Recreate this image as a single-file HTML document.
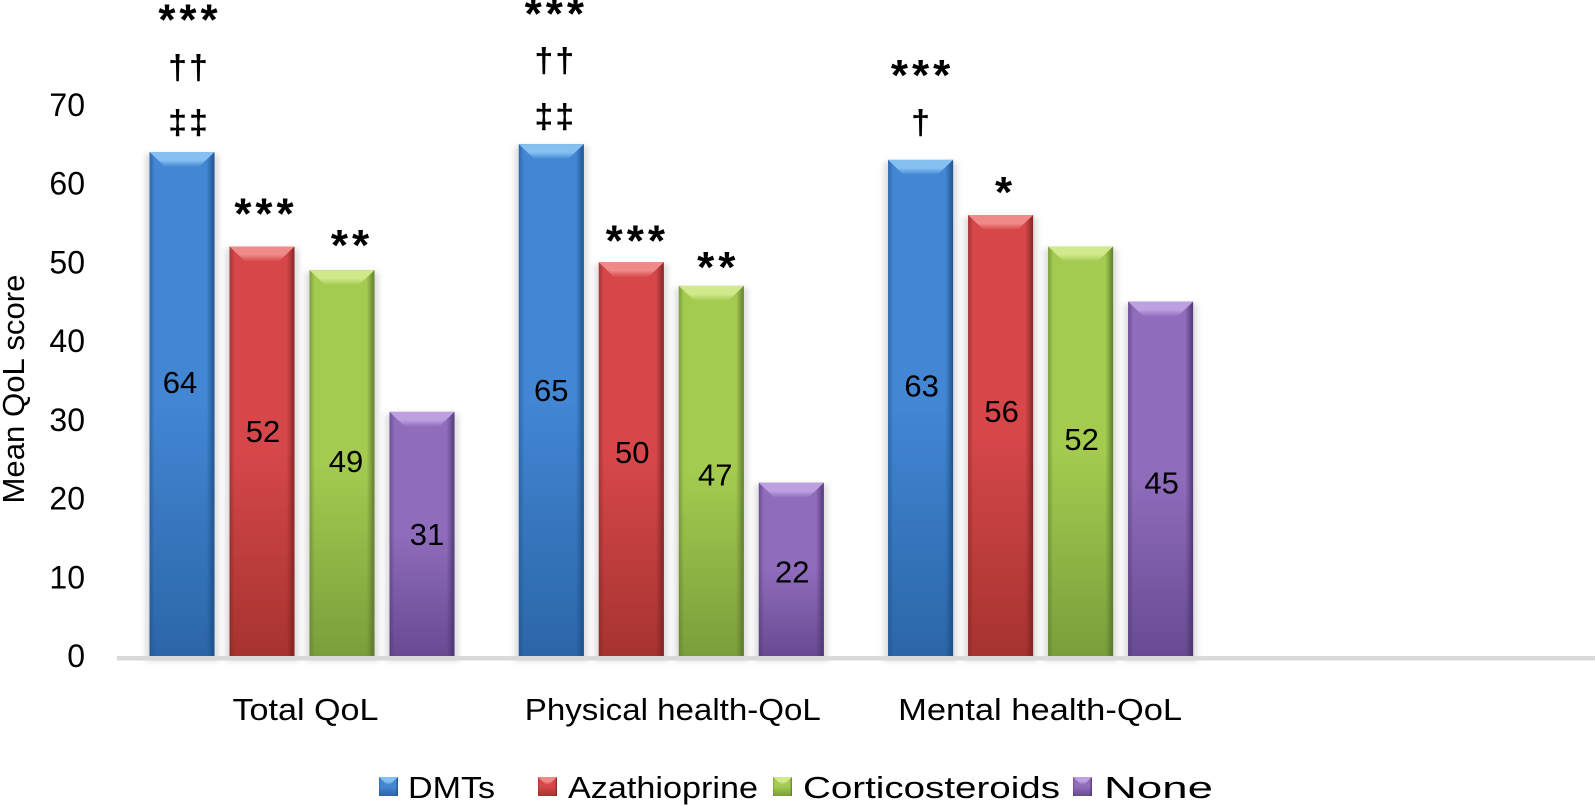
<!DOCTYPE html>
<html>
<head>
<meta charset="utf-8">
<title>Mean QoL score by treatment</title>
<style>
html,body{margin:0;padding:0;background:#fff;}
svg{display:block;}
text{font-family:"Liberation Sans",sans-serif;fill:#000;}
</style>
</head>
<body>
<svg id="chart" xmlns="http://www.w3.org/2000/svg" width="1595" height="806" viewBox="0 0 1595 806">
<defs>
<filter id="soft" x="-30%" y="-10%" width="160%" height="120%"><feGaussianBlur stdDeviation="3"/></filter>
</defs>
</svg>
<script>
const categories = ["Total QoL", "Physical health-QoL", "Mental health-QoL"];
const seriesNames = ["DMTs", "Azathioprine", "Corticosteroids", "None"];
const dmtValues = [64, 65, 63];
const azathioprineValues = [52, 50, 56];
const corticosteroidValues = [49, 47, 52];
const noneValues = [31, 22, 45];
const yTickLabels = [0, 10, 20, 30, 40, 50, 60, 70];
const dmtMarks = [["***", "††", "‡‡"], ["***", "††", "‡‡"], ["***", "†"]];
const azathioprineMarks = [["***"], ["***"], ["*"]];
const corticosteroidMarks = [["**"], ["**"], []];
const noneMarks = [[], [], []];
const dmtLabelShare = [0.544, 0.52, 0.545];
const azathioprineLabelShare = [0.55, 0.518, 0.555];
const corticosteroidLabelShare = [0.505, 0.49, 0.53];
const noneLabelShare = [0.5, 0.488, 0.49];

const svg = document.getElementById('chart');
const NS = 'http://www.w3.org/2000/svg';
const seriesValues = [dmtValues, azathioprineValues, corticosteroidValues, noneValues];
const seriesMarks = [dmtMarks, azathioprineMarks, corticosteroidMarks, noneMarks];
const seriesShare = [dmtLabelShare, azathioprineLabelShare, corticosteroidLabelShare, noneLabelShare];
const palette = [
  {top:'#4286d4', bot:'#2b66a8', light:'#86c0f2', dark:'#1c4a80'},
  {top:'#d6474a', bot:'#a63330', light:'#f08a88', dark:'#752120'},
  {top:'#a4cb50', bot:'#7b9e3b', light:'#cfe98c', dark:'#54702a'},
  {top:'#8f6cbc', bot:'#684a92', light:'#bda0e0', dark:'#47306a'}
];

const Y0 = 656, UNIT = 7.875, BAR_W = 65, BAR_PITCH = 80, GROUP_PITCH = 369.3, X0 = 149.5;
function yScale(v){ return Y0 - v * UNIT; }
function xScale(g, s){ return X0 + g * GROUP_PITCH + s * BAR_PITCH; }

function make(tag, attrs, parent, txt){
  const el = document.createElementNS(NS, tag);
  for (const k in attrs) el.setAttribute(k, attrs[k]);
  if (txt !== undefined) el.textContent = txt;
  (parent || svg).appendChild(el);
  return el;
}

// Hand-placed annotation offsets relative to each bar's top and centre.
function markPlacement(s, g, k){
  const table = {
    '0-0': [[6, 138], [6, 84.5], [6, 29.5]],
    '0-1': [[3, 136], [3, 83.5], [3, 27.5]],
    '0-2': [[0, 90.5], [0, 37.5]],
    '1-0': [[2, 38.5]],
    '1-1': [[4, 27.5]],
    '1-2': [[3, 28.5]],
    '2-0': [[8, 30.5]],
    '2-1': [[5, 24.5]]
  };
  return table[s + '-' + g][k];
}

function labelNudge(s, g){
  const table = [[-3, -1, 0], [0, 0, 0], [3, 3, 0], [4, 0, 0]];
  return table[s][g];
}

const defs = svg.querySelector('defs');
palette.forEach(function(p, i){
  const g = make('linearGradient', {id:'body' + i, x1:0, y1:0, x2:0, y2:1}, defs);
  make('stop', {offset:'0', 'stop-color':p.top}, g);
  make('stop', {offset:'0.5', 'stop-color':p.top}, g);
  make('stop', {offset:'1', 'stop-color':p.bot}, g);
  const h = make('linearGradient', {id:'side' + i, x1:0, y1:0, x2:1, y2:0}, defs);
  make('stop', {offset:'0', 'stop-color':p.dark, 'stop-opacity':'0.5'}, h);
  make('stop', {offset:'0.08', 'stop-color':p.dark, 'stop-opacity':'0'}, h);
  make('stop', {offset:'0.88', 'stop-color':p.dark, 'stop-opacity':'0'}, h);
  make('stop', {offset:'1', 'stop-color':p.dark, 'stop-opacity':'0.85'}, h);
  const b = make('linearGradient', {id:'bevel' + i, x1:0, y1:0, x2:0, y2:1}, defs);
  make('stop', {offset:'0', 'stop-color':p.light}, b);
  make('stop', {offset:'0.55', 'stop-color':p.light}, b);
  make('stop', {offset:'1', 'stop-color':p.top}, b);
});

function drawBevel(parent, x, yTop, w, h, i, bevel){
  const inset = bevel * 1.05;
  make('rect', {x:x, y:yTop, width:w, height:h, fill:'url(#body' + i + ')'}, parent);
  make('rect', {x:x, y:yTop, width:w, height:h, fill:'url(#side' + i + ')'}, parent);
  make('polygon', {points:[x,yTop, x+w,yTop, x+w-inset,yTop+bevel, x+inset,yTop+bevel].join(' '), fill:'url(#bevel' + i + ')'}, parent);
}

// y axis tick labels
yTickLabels.forEach(function(t){
  const el = make('text', {x:85, y:yScale(t) + 11, 'font-size':32, 'text-anchor':'end'}, svg, t);
  
  
});

// y axis title
const yTitle = make('text', {x:0, y:0, transform:'translate(24,389) rotate(-90)', 'font-size':31, 'text-anchor':'middle', textLength:229, lengthAdjust:'spacingAndGlyphs'}, svg, 'Mean QoL score');



// bars
categories.forEach(function(cat, g){
  seriesNames.forEach(function(name, s){
    const v = seriesValues[s][g];
    const x = xScale(g, s);
    const yTop = yScale(v);
    const h = Y0 - yTop;
    const bar = make('g', {}, svg);
    
    
    make('rect', {x:x - 4, y:yTop + 2, width:BAR_W + 8, height:h + 3, fill:'#cfcfcf', opacity:0.7, filter:'url(#soft)'}, bar);
    drawBevel(bar, x, yTop, BAR_W, h, s, 15);

    const label = make('text', {x:x + BAR_W / 2 + 1 + labelNudge(s, g), y:yScale(v * seriesShare[s][g]) + 11, 'font-size':31, 'text-anchor':'middle'}, svg, v);
    
    

    seriesMarks[s][g].forEach(function(mark, k){
      const isStar = mark.charAt(0) === '*';
      const place = markPlacement(s, g, k);
      const spacing = isStar ? 4 : 2;
      const fontSize = isStar ? 44 : 34;
      const glyphMid = isStar ? 20.5 : 11.5;
      const m = make('text', {x:x + BAR_W / 2 + place[0] + spacing / 2, y:yTop - place[1] + glyphMid, 'font-size':fontSize, 'font-weight':'bold', 'text-anchor':'middle', 'letter-spacing':spacing}, svg, mark);
      
      
    });
  });
  const cx = xScale(g, 0) + [156, 154, 152][g];
  const c = make('text', {x:cx, y:720, 'font-size':31, 'text-anchor':'middle', textLength:[146, 296, 284][g], lengthAdjust:'spacingAndGlyphs'}, svg, cat);
  
  
});

// axis line
const axis = make('rect', {x:117, y:656, width:1478, height:4.5, fill:'#d9d9d9'}, svg);



// legend
const legendSwatchX = [379, 538, 773, 1073];
const legendTextX = [408, 568, 803, 1104];
const legendTextW = [87, 190, 257, 109];
seriesNames.forEach(function(name, i){
  const entry = make('g', {}, svg);
  
  
  drawBevel(entry, legendSwatchX[i], 777, 19, 19, i, 8);
  make('text', {x:legendTextX[i], y:798, 'font-size':31, textLength:legendTextW[i], lengthAdjust:'spacingAndGlyphs'}, entry, name);
});
</script>
</body>
</html>
